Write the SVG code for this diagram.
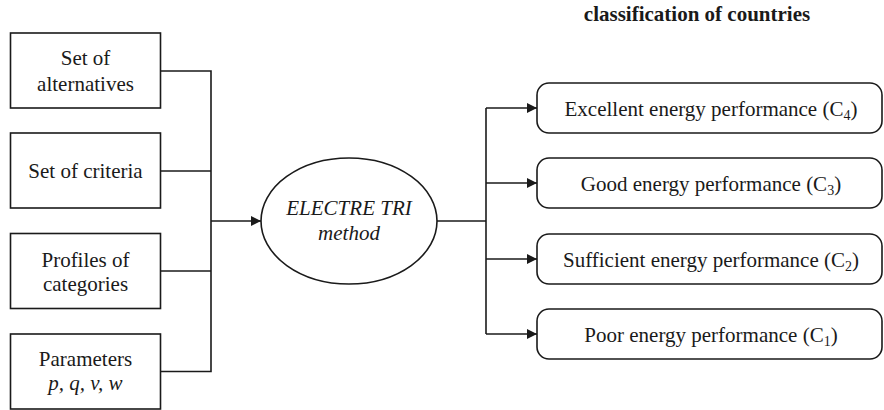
<svg xmlns="http://www.w3.org/2000/svg" width="884" height="410" viewBox="0 0 884 410">
  <style>
    .box { fill: #fff; stroke: #1a1a1a; stroke-width: 1.6; }
    .wire { fill: none; stroke: #1a1a1a; stroke-width: 1.6; }
    text { font-family: 'Liberation Serif', 'Times New Roman', serif; fill: #1a1a1a; text-anchor: middle; }
    .lbl { font-size: 21px; }
    .it { font-style: italic; }
    .title { font-size: 21px; font-weight: bold; }
    .sub { font-size: 14px; }
  </style>
  <defs>
    <marker id="arrow" viewBox="0 0 10 10" refX="10" refY="5" markerWidth="11" markerHeight="10" markerUnits="userSpaceOnUse" orient="auto">
      <path d="M0,0 L10,5 L0,10 Z" fill="#1a1a1a"/>
    </marker>
  </defs>

  <rect width="884" height="410" fill="#fff"/>

  <text class="title" x="697" y="21">classification of countries</text>

  <!-- input boxes -->
  <g id="alternatives">
    <rect class="box" x="10.5" y="33" width="150" height="75"/>
    <text class="lbl" x="85.5" y="65">Set of</text>
    <text class="lbl" x="85.5" y="90.5">alternatives</text>
  </g>
  <g id="criteria">
    <rect class="box" x="10.5" y="133" width="150" height="75"/>
    <text class="lbl" x="85.5" y="177.5">Set of criteria</text>
  </g>
  <g id="profiles">
    <rect class="box" x="10.5" y="233.5" width="150" height="75"/>
    <text class="lbl" x="85.5" y="266.5">Profiles of</text>
    <text class="lbl" x="85.5" y="290.5">categories</text>
  </g>
  <g id="parameters">
    <rect class="box" x="10.5" y="334" width="150" height="75"/>
    <text class="lbl" x="85.5" y="366">Parameters</text>
    <text class="lbl it" x="85.5" y="390">p, q, v, w</text>
  </g>

  <!-- method -->
  <g id="electre">
    <ellipse class="box" cx="349" cy="221" rx="88" ry="63"/>
    <text class="lbl it" x="349" y="215">ELECTRE TRI</text>
    <text class="lbl it" x="349" y="240">method</text>
  </g>

  <!-- output categories -->
  <g id="c4">
    <rect class="box" x="537" y="83" width="345" height="50" rx="12"/>
    <text class="lbl" x="711" y="115.5">Excellent energy performance (C<tspan class="sub" dy="4">4</tspan><tspan dy="-4">)</tspan></text>
  </g>
  <g id="c3">
    <rect class="box" x="537" y="158" width="345" height="50" rx="12"/>
    <text class="lbl" x="711" y="190.5">Good energy performance (C<tspan class="sub" dy="4">3</tspan><tspan dy="-4">)</tspan></text>
  </g>
  <g id="c2">
    <rect class="box" x="537" y="234" width="345" height="50" rx="12"/>
    <text class="lbl" x="711" y="266.5">Sufficient energy performance (C<tspan class="sub" dy="4">2</tspan><tspan dy="-4">)</tspan></text>
  </g>
  <g id="c1">
    <rect class="box" x="537" y="309" width="345" height="50" rx="12"/>
    <text class="lbl" x="711" y="341.5">Poor energy performance (C<tspan class="sub" dy="4">1</tspan><tspan dy="-4">)</tspan></text>
  </g>

  <!-- connectors -->
  <g id="connectors">
    <path class="wire" d="M160.5,71 H211 V371.5 H160.5"/>
    <path class="wire" d="M160.5,171 H211"/>
    <path class="wire" d="M160.5,271 H211"/>
    <path class="wire" d="M211,221 H261" marker-end="url(#arrow)"/>
    <path class="wire" d="M437,221 H486"/>
    <path class="wire" d="M486,108 V334"/>
    <path class="wire" d="M486,108 H537" marker-end="url(#arrow)"/>
    <path class="wire" d="M486,183 H537" marker-end="url(#arrow)"/>
    <path class="wire" d="M486,259 H537" marker-end="url(#arrow)"/>
    <path class="wire" d="M486,334 H537" marker-end="url(#arrow)"/>
  </g>
</svg>
